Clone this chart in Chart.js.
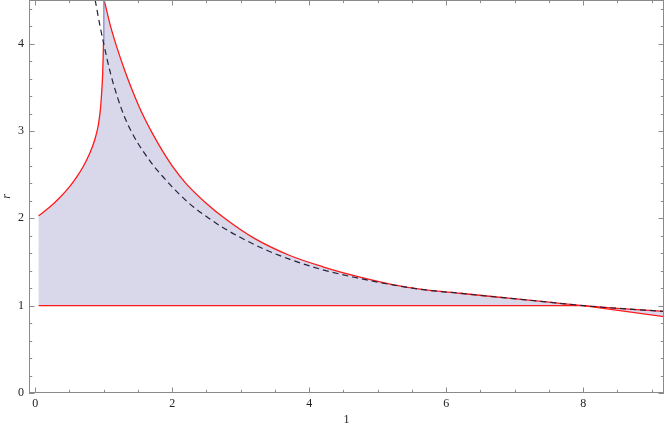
<!DOCTYPE html>
<html>
<head>
<meta charset="utf-8">
<script src="https://cdn.jsdelivr.net/npm/chart.js@4.4.1/dist/chart.umd.min.js"></script>
<style>
  html, body { margin: 0; padding: 0; background: #fff; }
  #wrap { width: 665px; height: 427px; }
</style>
</head>
<body>
<div id="wrap"><canvas id="plot"></canvas></div>
<script>
// values (x, r)
var leftX  = [0.05, 0.2, 0.35, 0.5, 0.6, 0.7, 0.8, 0.87, 0.92, 0.95, 0.97, 0.985, 0.993, 0.997];
var leftR  = [2.03, 2.12, 2.23, 2.36, 2.465, 2.59, 2.75, 2.9, 3.06, 3.23, 3.43, 3.65, 3.85, 4.0];

var upperX = [1.007, 1.1, 1.2, 1.3, 1.4, 1.5, 1.6, 1.7, 1.8, 1.9, 2.0, 2.2, 2.5, 2.8, 3.2, 3.7, 4.2, 4.7, 5.2, 5.7, 6.2, 6.7, 7.2, 7.6, 8.0, 8.5, 9.18];
var upperR = [4.5, 4.2, 3.94, 3.71, 3.5, 3.31, 3.14, 2.99, 2.85, 2.72, 2.6, 2.4, 2.17, 1.98, 1.77, 1.58, 1.445, 1.335, 1.245, 1.18, 1.142, 1.102, 1.064, 1.032, 1.0, 0.97, 0.935];

var dashX  = [0.876, 0.94, 1.0, 1.1, 1.2, 1.3, 1.4, 1.5, 1.6, 1.73, 1.85, 2.0, 2.25, 2.5, 2.75, 3.0, 3.35, 3.72, 4.2, 4.7, 5.2, 5.7, 6.2, 6.7, 7.2, 7.6, 8.0, 8.5, 9.18];
var dashR  = [4.5, 4.23, 4.0, 3.66, 3.39, 3.17, 3.0, 2.86, 2.74, 2.6, 2.49, 2.36, 2.17, 2.02, 1.89, 1.78, 1.645, 1.53, 1.41, 1.318, 1.24, 1.18, 1.142, 1.102, 1.064, 1.032, 1.0, 0.97, 0.935];

var baseX  = [0.05, 8.0, 9.18];
var baseR  = [1.0, 1.0, 0.875];

var edgeX  = [0.997, 1.003];
var edgeR  = [4.0, 4.5];

var xTicks = [0, 2, 4, 6, 8];
var yTicks = [0, 1, 2, 3, 4];

function pts(xs, ys) {
  return xs.map(function(x, i) { return {x: x, y: ys[i]}; });
}

// closed outline of the shaded region
var shape = [{x: baseX[0], y: baseR[0]}]
  .concat(pts(leftX, leftR))
  .concat(pts(edgeX, edgeR))
  .concat(pts(upperX, upperR))
  .concat(pts(baseX, baseR).reverse());

var red = 'rgb(255,25,25)';
var frameColor = '#8a8a8a';

// frame with inward ticks on all four sides
var framePlugin = {
  id: 'frame',
  afterDraw: function(chart) {
    var ctx = chart.ctx, a = chart.chartArea;
    var xs = chart.scales.x, ys = chart.scales.y;
    ctx.save();
    ctx.strokeStyle = frameColor;
    ctx.lineWidth = 1;
    ctx.strokeRect(a.left + 0.5, a.top + 0.5, a.right - a.left - 1, a.bottom - a.top - 1);
    ctx.beginPath();
    for (var i = 0; i <= 18; i++) {
      var v = i * 0.5;
      var px = Math.round(xs.getPixelForValue(v)) + 0.5;
      var len = (v % 2 === 0) ? 5.5 : 3.2;
      ctx.moveTo(px, a.bottom); ctx.lineTo(px, a.bottom - len);
      ctx.moveTo(px, a.top); ctx.lineTo(px, a.top + len);
    }
    for (var j = 0; j <= 22; j++) {
      var w = j * 0.2;
      var py = Math.round(ys.getPixelForValue(w)) + 0.5;
      var l2 = (j % 5 === 0) ? 5.5 : 3.2;
      ctx.moveTo(a.left, py); ctx.lineTo(a.left + l2, py);
      ctx.moveTo(a.right, py); ctx.lineTo(a.right - l2, py);
    }
    ctx.stroke();
    ctx.restore();
  }
};

Chart.defaults.font.family = '"Liberation Serif", "DejaVu Serif", serif';
Chart.defaults.font.size = 12;
Chart.defaults.color = '#222';

new Chart('plot', {
  type: 'line',
  plugins: [framePlugin],
  data: {
    datasets: [
      {
        data: shape,
        borderWidth: 0,
        borderColor: 'rgba(0,0,0,0)',
        backgroundColor: 'rgb(216,216,234)',
        fill: 'shape',
        pointRadius: 0,
        tension: 0,
        order: 5
      },
      {
        data: pts(edgeX, edgeR),
        borderColor: 'rgb(110,110,190)',
        borderWidth: 1,
        pointRadius: 0,
        fill: false,
        order: 4
      },
      {
        data: pts(baseX, baseR),
        borderColor: red,
        borderWidth: 1.3,
        pointRadius: 0,
        fill: false,
        order: 2
      },
      {
        data: pts(leftX, leftR),
        borderColor: red,
        borderWidth: 1.3,
        pointRadius: 0,
        fill: false,
        cubicInterpolationMode: 'monotone',
        order: 2
      },
      {
        data: pts(upperX, upperR),
        borderColor: red,
        borderWidth: 1.3,
        pointRadius: 0,
        fill: false,
        cubicInterpolationMode: 'monotone',
        order: 2
      },
      {
        data: pts(dashX, dashR),
        borderColor: 'rgb(35,35,60)',
        borderWidth: 1.2,
        borderDash: [6, 4],
        pointRadius: 0,
        fill: false,
        cubicInterpolationMode: 'monotone',
        order: 1
      }
    ]
  },
  options: {
    responsive: true,
    maintainAspectRatio: false,
    animation: false,
    layout: { padding: { top: 0, right: 1, left: 0, bottom: 0 } },
    plugins: {
      legend: { display: false },
      tooltip: { enabled: false }
    },
    scales: {
      x: {
        type: 'linear',
        min: -0.09,
        max: 9.18,
        afterBuildTicks: function(s) { s.ticks = xTicks.map(function(v) { return {value: v}; }); },
        afterFit: function(s) { s.height = 34; s.paddingLeft = 0; s.paddingRight = 0; },
        grid: { display: false, drawTicks: false },
        border: { display: false },
        ticks: { padding: 4, autoSkip: false, maxRotation: 0 },
        title: { display: true, text: '1', padding: { top: 0, bottom: 0 } }
      },
      y: {
        type: 'linear',
        min: 0,
        max: 4.5,
        afterBuildTicks: function(s) { s.ticks = yTicks.map(function(v) { return {value: v}; }); },
        afterFit: function(s) { s.width = 29; s.paddingTop = 0; s.paddingBottom = 0; },
        grid: { display: false, drawTicks: false },
        border: { display: false },
        ticks: { padding: 5 },
        title: { display: true, text: 'r', font: { style: 'italic' }, padding: { top: 0, bottom: 0 } }
      }
    }
  }
});
</script>
</body>
</html>
